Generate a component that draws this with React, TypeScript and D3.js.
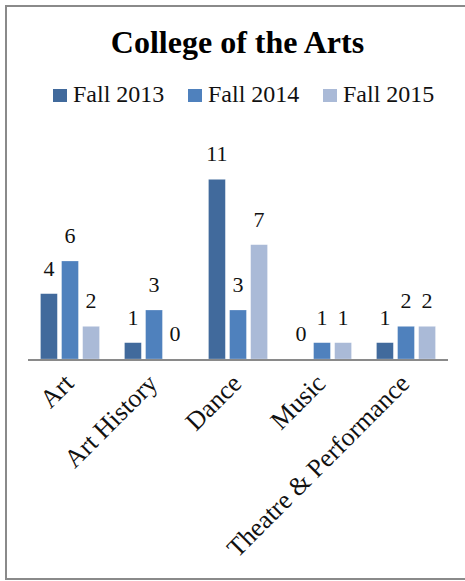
import React from "react";
import { scaleBand, scaleLinear } from "d3";

const categories = ["Art", "Art History", "Dance", "Music", "Theatre & Performance"];
const seriesNames = ["Fall 2013", "Fall 2014", "Fall 2015"];
const fall2013 = [4, 1, 11, 0, 1];
const fall2014 = [6, 3, 3, 1, 2];
const fall2015 = [2, 0, 7, 1, 2];
const seriesColors = ["#416A9C", "#4F81BD", "#AABAD7"];

const font = "Liberation Serif, DejaVu Serif, serif";

function App() {
  const width = 465;
  const height = 581;
  const values = [fall2013, fall2014, fall2015];

  const x0 = scaleBand<string>().domain(categories).range([28, 448]);
  const x1 = scaleBand<string>()
    .domain(seriesNames)
    .range([12.5, x0.bandwidth() - 12.5])
    .paddingInner(0.2);
  const y = scaleLinear().domain([0, 12]).range([359, 163]);

  // legend layout
  const legendX = [53, 188, 323];

  return (
    <svg
      width={width}
      height={height}
      style={{ position: "absolute", left: 0, top: 0, background: "#fff", fontFamily: font }}
    >
      <rect x={6} y={6} width={480} height={573} fill="#fff" stroke="#8a8a8a" strokeWidth={2} />
      <text
        x={237.5}
        y={53}
        textAnchor="middle"
        style={{ fontFamily: font, fontWeight: "bold", fontSize: 32 }}
        fill="#000"
      >
        College of  the Arts
      </text>

      {seriesNames.map((name, i) => (
        <g key={name} transform={`translate(${legendX[i]},0)`}>
          <rect x={0} y={89} width={14} height={13} fill={seriesColors[i]} />
          <text x={20} y={102} style={{ fontFamily: font, fontSize: 24 }} fill="#111">
            {name}
          </text>
        </g>
      ))}

      {categories.map((cat, ci) => (
        <g key={cat} transform={`translate(${x0(cat)},0)`}>
          {seriesNames.map((s, si) => {
            const v = values[si][ci];
            return (
              <g key={s}>
                {v > 0 && (
                  <rect
                    x={x1(s)}
                    y={y(v)}
                    width={x1.bandwidth()}
                    height={y(0) - y(v)}
                    fill={seriesColors[si]}
                    stroke="#fff"
                    strokeOpacity={0.5}
                    strokeWidth={0.5}
                  />
                )}
                <text
                  x={(x1(s) as number) + x1.bandwidth() / 2}
                  y={y(v) - 18}
                  textAnchor="middle"
                  style={{ fontFamily: font, fontSize: 22 }}
                  fill="#111"
                >
                  {v}
                </text>
              </g>
            );
          })}
        </g>
      ))}

      <line x1={28} x2={448} y1={360} y2={360} stroke="#8a8a8a" strokeWidth={2} />

      {categories.map((cat) => {
        const cx = (x0(cat) as number) + x0.bandwidth() / 2;
        const tx = cx + 5;
        const ty = 385;
        return (
          <text
            key={cat}
            x={tx}
            y={ty}
            textAnchor="end"
            transform={`rotate(-45, ${tx}, ${ty})`}
            style={{ fontFamily: font, fontSize: 26 }}
            fill="#111"
          >
            {cat}
          </text>
        );
      })}
    </svg>
  );
}

export default App;
